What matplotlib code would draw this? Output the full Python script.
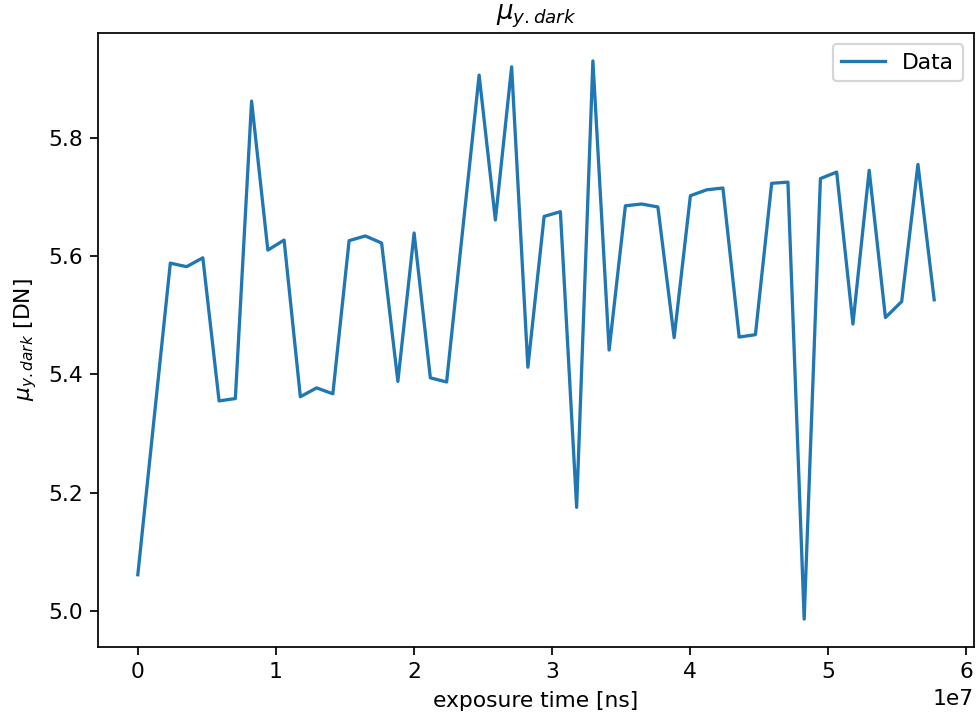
import matplotlib
matplotlib.use('Agg')
import matplotlib.pyplot as plt

# exposure times [ns]
exposure_ns = [0.0, 1.178e6, 2.355e6, 3.533e6, 4.710e6, 5.888e6, 7.066e6, 8.243e6,
               9.421e6, 10.598e6, 11.776e6, 12.954e6, 14.131e6, 15.309e6, 16.486e6,
               17.664e6, 18.842e6, 20.019e6, 21.197e6, 22.374e6, 23.552e6, 24.730e6,
               25.907e6, 27.085e6, 28.262e6, 29.440e6, 30.618e6, 31.795e6, 32.973e6,
               34.150e6, 35.328e6, 36.506e6, 37.683e6, 38.861e6, 40.038e6, 41.216e6,
               42.394e6, 43.571e6, 44.749e6, 45.926e6, 47.104e6, 48.282e6, 49.459e6,
               50.637e6, 51.814e6, 52.992e6, 54.170e6, 55.347e6, 56.525e6, 57.702e6]

# mean dark signal [DN]
mu_dark = [5.061, 5.325, 5.588, 5.582, 5.597, 5.355, 5.359, 5.862, 5.610, 5.627,
           5.362, 5.377, 5.367, 5.626, 5.634, 5.622, 5.388, 5.639, 5.394, 5.387,
           5.647, 5.906, 5.661, 5.920, 5.412, 5.667, 5.675, 5.175, 5.930, 5.441,
           5.685, 5.688, 5.683, 5.462, 5.702, 5.712, 5.715, 5.463, 5.467, 5.723,
           5.725, 4.986, 5.731, 5.742, 5.485, 5.745, 5.496, 5.523, 5.755, 5.526]

DPI = 157


def plot_dark():
    fig = plt.figure(figsize=(976 / DPI, 718 / DPI), dpi=DPI)
    ax = fig.add_axes([98 / 976, 71 / 718, 876 / 976, 614 / 718])

    ax.plot(exposure_ns, mu_dark, label='Data')
    ax.set_title(r'$\mu_{y.dark}$')
    ax.set_xlabel('exposure time [ns]')
    ax.set_ylabel(r'$\mu_{y.dark}$ [DN]')
    ax.legend(loc='upper right')

    fig.savefig('out.png', dpi=DPI)
    plt.close(fig)


if __name__ == '__main__':
    plot_dark()
